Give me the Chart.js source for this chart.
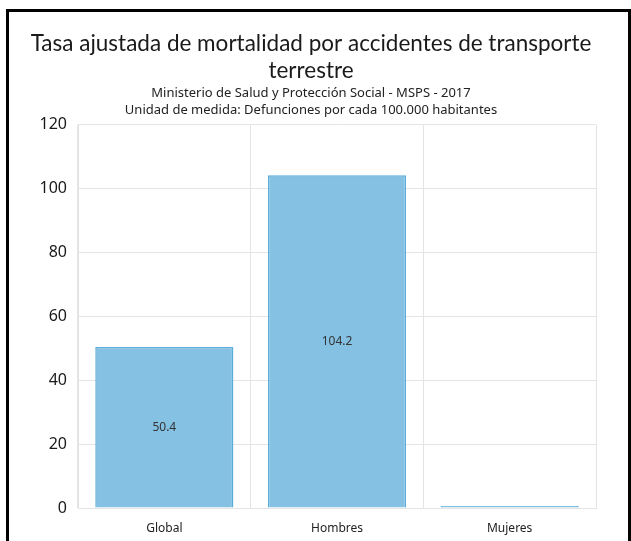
<!DOCTYPE html>
<html>
<head>
<meta charset="utf-8">
<script src="https://cdn.jsdelivr.net/npm/chart.js@4"></script>
<style>
    html, body { margin: 0; padding: 0; background: #fff; }
    #wrap { position: absolute; left: 0; top: 0; width: 631px; height: 541px; }
    #frame {
        position: absolute; left: 6px; top: 9px; width: 619px; height: 560px;
        border-left: 3px solid #000; border-top: 3px solid #000; border-right: 3px solid #000;
        pointer-events: none;
    }
</style>
</head>
<body>
<div id="wrap">
    <canvas id="mortalityChart" width="631" height="541"></canvas>
    <div id="frame"></div>
</div>
<script>
const categories = ["Global", "Hombres", "Mujeres"];
const rates = [50.4, 104.2, 0];
const yTicks = [0, 20, 40, 60, 80, 100, 120];
const titleLines = ["Tasa ajustada de mortalidad por accidentes de transporte", "terrestre"];
const subtitleLines = ["Ministerio de Salud y Protección Social - MSPS - 2017", "Unidad de medida: Defunciones por cada 100.000 habitantes"];

const fontFamily = "'Noto Sans', 'Open Sans', sans-serif";

// value labels in the middle of each bar
const barLabels = {
    id: "barLabels",
    afterDatasetsDraw(chart) {
        const ctx = chart.ctx;
        const meta = chart.getDatasetMeta(0);
        ctx.save();
        ctx.font = "12px " + fontFamily;
        ctx.fillStyle = "#333";
        ctx.textAlign = "center";
        ctx.textBaseline = "middle";
        meta.data.forEach((bar, i) => {
            if (!rates[i]) return;
            ctx.fillText(rates[i].toFixed(1), bar.x, (bar.y + bar.base) / 2);
        });
        ctx.restore();
    }
};

const ctx = document.getElementById("mortalityChart").getContext("2d");
new Chart(ctx, {
    type: "bar",
    data: {
        labels: categories,
        datasets: [{
            data: rates,
            backgroundColor: "#84c1e3",
            borderColor: "#5aacdb",
            borderWidth: 1.5,
            minBarLength: 2,
            barPercentage: 0.8,
            categoryPercentage: 1
        }]
    },
    options: {
        responsive: false,
        animation: false,
        layout: { padding: { left: 26, right: 35, top: 0, bottom: 0 } },
        plugins: {
            legend: { display: false },
            tooltip: { enabled: false },
            title: {
                display: true,
                text: titleLines,
                color: "#1a1a1a",
                font: { family: "Lato, sans-serif", size: 22.5, weight: "normal", lineHeight: 1.2 },
                padding: { top: 30, bottom: 0 }
            },
            subtitle: {
                display: true,
                text: subtitleLines,
                color: "#222",
                font: { family: fontFamily, size: 13, weight: "normal", lineHeight: 1.3 },
                padding: { top: 1, bottom: 6 }
            }
        },
        scales: {
            x: {
                afterFit(scale) { scale.height = 33; },
                grid: { color: "#e4e4e4", drawTicks: false, offset: true },
                border: { color: "#e4e4e4" },
                ticks: { color: "#222", font: { family: fontFamily, size: 12 }, padding: 13 }
            },
            y: {
                min: 0,
                max: 120,
                afterFit(scale) { scale.width = 52; },
                afterBuildTicks(scale) { scale.ticks = yTicks.map(v => ({ value: v })); },
                grid: { color: "#e4e4e4", drawTicks: false },
                border: { color: "#e4e4e4" },
                ticks: { color: "#1a1a1a", font: { family: fontFamily, size: 16 }, padding: 11 }
            }
        }
    },
    plugins: [barLabels]
});
</script>
</body>
</html>
